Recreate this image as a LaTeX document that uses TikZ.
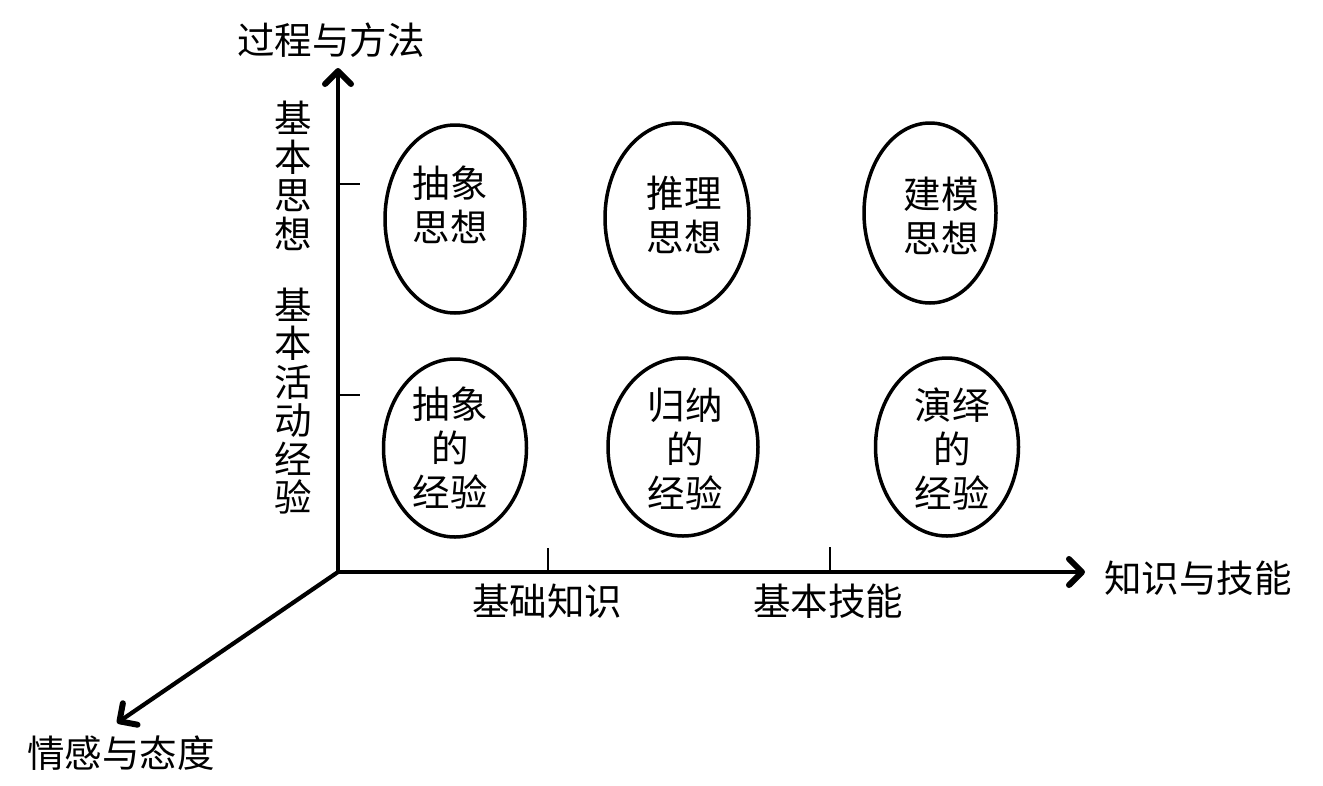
\documentclass[tikz,border=0pt]{standalone}
\usepackage{fontspec}
\newfontfamily\cjk{Noto Sans CJK SC}
\usetikzlibrary{arrows.meta,shapes.geometric}
\begin{document}
\begin{tikzpicture}[x=1pt,y=-1pt,
  axis/.style={line width=4.2pt,-{Straight Barb[length=13pt,width=26pt,line width=6pt,round]}},
  tick/.style={line width=1.5pt},
  bubble/.style={draw,line width=3.5pt,ellipse,inner sep=0pt},
  lbl/.style={font=\cjk\fontsize{37.5}{44}\selectfont,inner sep=0pt,align=center},
  vlbl/.style={font=\cjk\fontsize{37.5}{38.5}\selectfont,inner sep=0pt,align=center,text width=40pt}]
\useasboundingbox (0,0) rectangle (1323,785);
\fill[white] (0,0) rectangle (1323,785);
% axes
\coordinate (O) at (338,572);
\coordinate (Ytip) at (338,68);
\coordinate (Xtip) at (1085,572);
\coordinate (Ztip) at (117,723);
\draw[axis] (O) -- (Ytip);
\draw[axis] (O) -- (Xtip);
\draw[axis] (O) -- (Ztip);
% ticks
\coordinate (t1a) at (338,184); \coordinate (t1b) at (360,184);
\coordinate (t2a) at (338,395); \coordinate (t2b) at (360,395);
\coordinate (t3a) at (548,572); \coordinate (t3b) at (548,548);
\coordinate (t4a) at (830,572); \coordinate (t4b) at (830,547);
\draw[tick] (t1a) -- (t1b);
\draw[tick] (t2a) -- (t2b);
\draw[tick] (t3a) -- (t3b);
\draw[tick] (t4a) -- (t4b);
% axis labels
\node[lbl] (ly) at (331,40) {过程与方法};
\node[lbl] (lx) at (1198,578) {知识与技能};
\node[lbl] (lz) at (121,753) {情感与态度};
\node[lbl] (lx1) at (547,601) {基础知识};
\node[lbl] (lx2) at (828,601) {基本技能};
\node[vlbl] (ly1) at (293,176) {基\\本\\思\\想};
\node[vlbl] (ly2) at (293,401) {基\\本\\活\\动\\经\\验};
% ellipses
\node[bubble,minimum width=140pt,minimum height=188pt] (e1) at (455,219) {};
\node[bubble,minimum width=144pt,minimum height=190pt] (e2) at (677,218) {};
\node[bubble,minimum width=132pt,minimum height=180pt] (e3) at (930,213) {};
\node[bubble,minimum width=143pt,minimum height=178pt] (e4) at (455,448) {};
\node[bubble,minimum width=150pt,minimum height=178pt] (e5) at (683,447) {};
\node[bubble,minimum width=143pt,minimum height=178pt] (e6) at (947,447) {};
% ellipse texts
\node[lbl] (s1) at (450,205) {抽象\\思想};
\node[lbl] (s2) at (684,215) {推理\\思想};
\node[lbl] (s3) at (941,216) {建模\\思想};
\node[lbl] (s4) at (450,448) {抽象\\的\\经验};
\node[lbl] (s5) at (685,449) {归纳\\的\\经验};
\node[lbl] (s6) at (952,449) {演绎\\的\\经验};
\end{tikzpicture}
\end{document}
